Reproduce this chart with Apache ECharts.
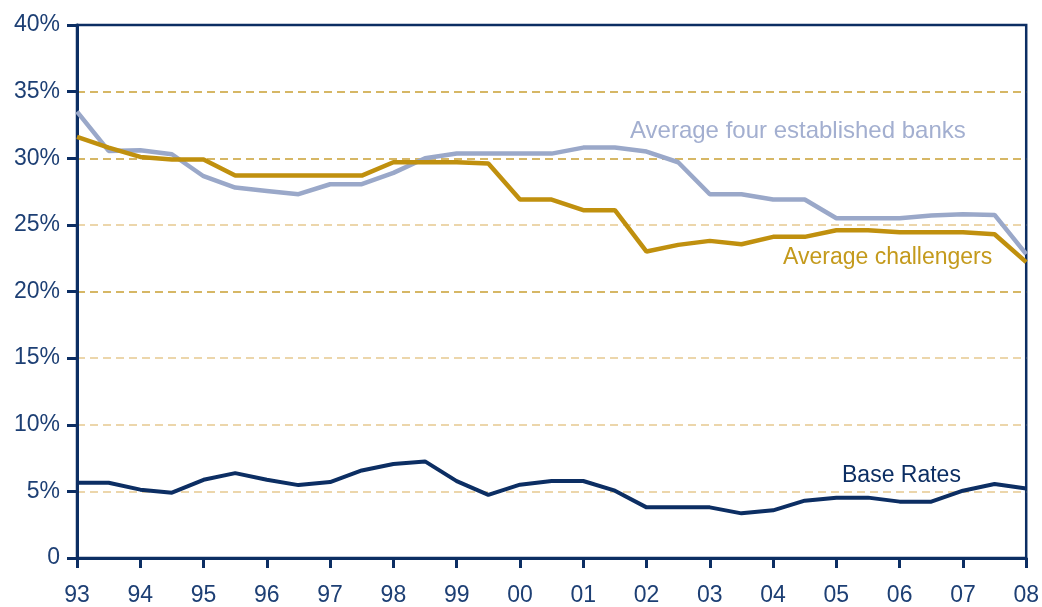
<!DOCTYPE html>
<html>
<head>
<meta charset="utf-8">
<script src="https://cdn.jsdelivr.net/npm/echarts@6/dist/echarts.min.js"></script>
<style>
  html, body { margin: 0; padding: 0; background: #fff; }
  #chart { width: 1042px; height: 607px; }
</style>
</head>
<body>
<div id="chart"></div>
<script>
// half-year points, 1993 .. 2008
var periods = ['93', '93H2', '94', '94H2', '95', '95H2', '96', '96H2', '97', '97H2',
  '98', '98H2', '99', '99H2', '00', '00H2', '01', '01H2', '02', '02H2',
  '03', '03H2', '04', '04H2', '05', '05H2', '06', '06H2', '07', '07H2', '08'];

var establishedBanks = [33.5, 30.55, 30.6, 30.3, 28.65, 27.8, 27.55, 27.3, 28.05, 28.05,
  28.9, 30.0, 30.35, 30.35, 30.35, 30.35, 30.8, 30.8, 30.5, 29.7,
  27.3, 27.3, 26.9, 26.9, 25.5, 25.5, 25.5, 25.7, 25.8, 25.75, 22.8];

var challengers = [31.6, 30.8, 30.1, 29.9, 29.9, 28.7, 28.7, 28.7, 28.7, 28.7,
  29.7, 29.7, 29.7, 29.6, 26.9, 26.9, 26.1, 26.1, 23.0, 23.5,
  23.8, 23.55, 24.1, 24.1, 24.6, 24.6, 24.45, 24.45, 24.45, 24.3, 22.2];

var baseRates = [5.65, 5.65, 5.13, 4.9, 5.87, 6.37, 5.87, 5.47, 5.7, 6.57,
  7.06, 7.25, 5.77, 4.74, 5.5, 5.78, 5.78, 5.05, 3.8, 3.8,
  3.8, 3.35, 3.58, 4.3, 4.53, 4.53, 4.23, 4.23, 5.05, 5.55, 5.22];

var navy = '#0c2e63';
var labelFont = 'Liberation Sans';

var chart = echarts.init(document.getElementById('chart'));

var option = {
  animation: false,
  grid: {
    left: 77,
    right: 13,
    top: 25,
    bottom: 48,
    show: true,
    borderColor: navy,
    borderWidth: 2.5
  },
  xAxis: {
    type: 'category',
    boundaryGap: false,
    data: periods,
    axisLine: { lineStyle: { color: navy, width: 3 } },
    axisTick: { interval: 1, length: 10, lineStyle: { color: navy, width: 3 } },
    axisLabel: {
      interval: 1,
      margin: 26,
      color: '#1d3f74',
      fontFamily: labelFont,
      fontSize: 23,
      formatter: function (v) { return v.slice(0, 2); }
    },
    splitLine: { show: false }
  },
  yAxis: {
    type: 'value',
    min: 0,
    max: 40,
    interval: 5,
    axisLine: { show: true, lineStyle: { color: navy, width: 3 } },
    axisTick: { show: true, length: 10, lineStyle: { color: navy, width: 3 } },
    axisLabel: {
      margin: 17,
      color: '#1d3f74',
      fontFamily: labelFont,
      fontSize: 23,
      formatter: function (v) { return v === 0 ? '0' : v + '%'; }
    },
    splitLine: {
      show: true,
      showMinLine: false,
      showMaxLine: false,
      lineStyle: {
        color: ['#e6c990', '#e6c990', '#e6c990', '#c9a033', '#e6c990', '#c9a033', '#c9a033'],
        width: 1.5,
        type: [8, 5]
      }
    }
  },
  series: [
    {
      name: 'Average four established banks',
      type: 'line',
      data: establishedBanks,
      symbol: 'none',
      lineStyle: { color: '#9aa8c9', width: 4.5 },
      z: 3
    },
    {
      name: 'Average challengers',
      type: 'line',
      data: challengers,
      symbol: 'none',
      lineStyle: { color: '#c0900e', width: 4.5 },
      z: 4
    },
    {
      name: 'Base Rates',
      type: 'line',
      data: baseRates,
      symbol: 'none',
      lineStyle: { color: navy, width: 4 },
      z: 5
    }
  ],
  graphic: [
    {
      type: 'text', left: 630, top: 119,
      style: { text: 'Average four established banks', fill: '#a3afd0', font: '24px "Liberation Sans"' }
    },
    {
      type: 'text', left: 783, top: 246,
      style: { text: 'Average challengers', fill: '#c49a1c', font: '23px "Liberation Sans"' }
    },
    {
      type: 'text', left: 842, top: 464,
      style: { text: 'Base Rates', fill: navy, font: '23px "Liberation Sans"' }
    }
  ]
};

chart.setOption(option);
</script>
</body>
</html>
